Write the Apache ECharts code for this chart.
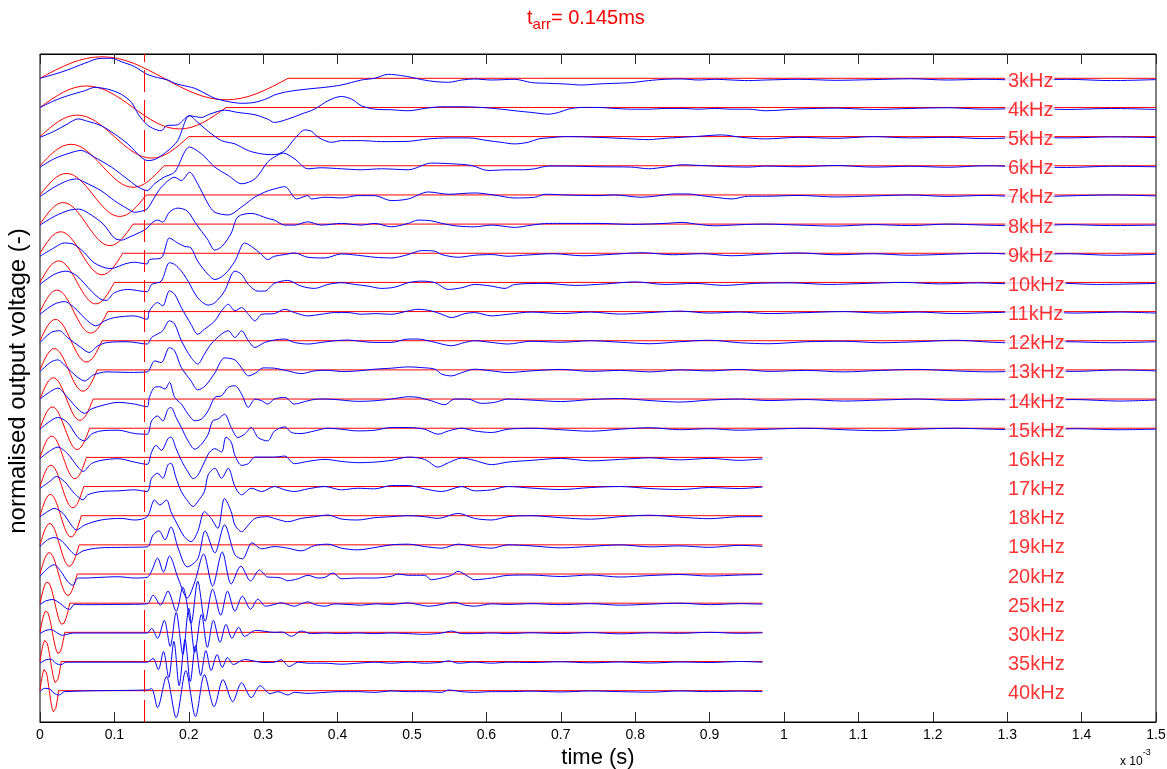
<!DOCTYPE html>
<html><head><meta charset="utf-8">
<script src="https://cdn.jsdelivr.net/npm/echarts/dist/echarts.min.js"></script>
<style>html,body{margin:0;padding:0;background:#fff}#c{width:1167px;height:769px}</style>
</head><body><div id="c"></div>
<script>
// ---- data (time in ms, amplitude in plot units; 1 unit ~ 1px) ----
const freqsKHz = [3,4,5,6,7,8,9,10,11,12,13,14,15,16,17,18,19,20,25,30,35,40];
const traceLabels = ['3kHz','4kHz','5kHz','6kHz','7kHz','8kHz','9kHz','10kHz','11kHz','12kHz','13kHz','14kHz','15kHz','16kHz','17kHz','18kHz','19kHz','20kHz','25kHz','30kHz','35kHz','40kHz'];
const traceEnd = [1.5,1.5,1.5,1.5,1.5,1.5,1.5,1.5,1.5,1.5,1.5,1.5,1.5,0.971,0.971,0.971,0.971,0.971,0.971,0.971,0.971,0.971];
const arrivalTime = 0.145;
const xTicks = [0.1,0.2,0.3,0.4,0.5,0.6,0.7,0.8,0.9,1.0,1.1,1.2,1.3,1.4];
// input pulse: one cycle, sampled at 1/32 of a period
const pulseShape = [0,4.2,8.2,11.9,15.2,17.9,19.9,21.1,21.5,21.1,19.9,17.9,15.2,11.9,8.2,4.2,0,-4.2,-8.2,-11.9,-15.2,-17.9,-19.9,-21.1,-21.5,-21.1,-19.9,-17.9,-15.2,-11.9,-8.2,-4.2,0];

const blue3 = [0,0, 0.019,4, 0.037,8.3, 0.06,15, 0.082,20, 0.096,20, 0.109,16.7, 0.127,11.7, 0.144,4, 0.158,0.7, 0.172,-1.7, 0.181,-5, 0.199,-8.3, 0.208,-10, 0.226,-16.7, 0.235,-20, 0.253,-23.3, 0.271,-25, 0.289,-24, 0.306,-20, 0.315,-16.7, 0.333,-13.3, 0.36,-10.7, 0.383,-9, 0.405,-6.7, 0.432,-1.7, 0.45,0, 0.468,4, 0.486,2.7, 0.499,1, 0.513,-1.3, 0.531,-3.3, 0.549,-4, 0.567,-1.7, 0.584,-0.7, 0.607,-1.7, 0.638,-1, 0.661,-4.3, 0.683,-5, 0.706,-5.7, 0.728,-6.7, 0.75,-5.7, 0.773,-5, 0.795,-4.3, 0.818,-2.3, 0.84,-1, 0.863,-0.7, 0.885,-1.7, 0.907,-1, 0.93,-1.7, 0.952,-2.3, 0.975,-1.7, 1.02,-1, 1.07,-2, 1.12,-1.3, 1.17,-0.5, 1.22,-1.7, 1.27,-1, 1.33,-2, 1.38,-1, 1.44,-2.3, 1.5,-1.3];
const blue4 = [0,0, 0.019,6.7, 0.037,11.7, 0.06,16.7, 0.073,20, 0.091,18.3, 0.109,13.3, 0.123,5, 0.132,-6.7, 0.144,-17.3, 0.154,-21.7, 0.163,-23.3, 0.17,-18.3, 0.185,-17.3, 0.201,-8.3, 0.217,-10, 0.228,-6.7, 0.248,-2.7, 0.266,-5, 0.289,-7.3, 0.306,-11.7, 0.315,-15, 0.333,-11.7, 0.351,-6.7, 0.369,-1.7, 0.387,6.7, 0.405,11, 0.419,8.3, 0.432,1.7, 0.45,-1.7, 0.472,-2.3, 0.495,-3.3, 0.517,-1, 0.54,0.7, 0.567,0.7, 0.593,0, 0.62,-1.7, 0.638,-3.3, 0.661,-5, 0.683,-6.7, 0.697,-5, 0.71,-1.7, 0.728,0, 0.75,0, 0.773,-1, 0.795,-1.7, 0.818,-1.7, 0.84,-1, 0.863,-1, 0.885,-1.7, 0.907,-1, 0.93,-1.7, 0.952,-1.7, 0.975,-3.3, 1.02,-1.5, 1.07,-0.7, 1.12,-2, 1.17,-1, 1.22,-0.3, 1.27,-1.7, 1.33,-1, 1.38,-2, 1.44,-1, 1.5,-2];
const blue5 = [0,-0.7, 0.019,5.3, 0.037,12.7, 0.051,17.7, 0.064,15.3, 0.082,11, 0.1,2.7, 0.118,-7.3, 0.136,-20.7, 0.145,-24, 0.156,-22.3, 0.172,-14, 0.185,-4, 0.201,21, 0.212,14.3, 0.226,5.3, 0.244,-4, 0.262,-7.3, 0.28,-14, 0.298,-17.3, 0.315,-18, 0.329,-14, 0.342,-2.3, 0.356,6.7, 0.365,5.3, 0.374,-0.7, 0.392,-5.7, 0.405,-4, 0.432,-4, 0.459,-5, 0.495,-4.7, 0.522,-2.3, 0.549,-1.3, 0.576,-1.3, 0.602,-4, 0.62,-5.7, 0.638,-7.3, 0.656,-5.7, 0.67,-2.3, 0.683,-1.3, 0.706,0, 0.75,-0.7, 0.795,-2.3, 0.818,-3, 0.84,-1.7, 0.885,0.3, 0.916,1.7, 0.943,-0.7, 0.975,-2.3, 1.02,-0.7, 1.07,-1.7, 1.12,0, 1.17,-1.3, 1.22,-0.7, 1.27,-2, 1.33,-0.7, 1.38,-1.3, 1.44,-0.3, 1.5,-1];
const blue6 = [0,-1.3, 0.019,7, 0.037,12, 0.055,15.3, 0.073,8.7, 0.096,-1.3, 0.114,-11.3, 0.132,-21.3, 0.144,-24.7, 0.154,-18, 0.167,-11.3, 0.181,-6.3, 0.201,18.7, 0.217,12, 0.235,-1.3, 0.253,-9.7, 0.271,-18, 0.289,-13, 0.306,3.7, 0.315,8.7, 0.327,12.7, 0.342,7, 0.36,-3, 0.378,-2, 0.405,-3, 0.432,-4, 0.459,-3, 0.495,-4, 0.526,2.7, 0.553,2, 0.58,0.3, 0.602,-4.7, 0.629,-4, 0.65,-4, 0.665,-3, 0.683,-0.3, 0.706,-0.3, 0.75,-1, 0.795,-1.3, 0.818,-3, 0.84,-1.3, 0.863,1, 0.889,0.3, 0.916,-0.7, 0.952,-1.3, 0.975,-0.3, 1.02,-1, 1.07,0.3, 1.12,-1.3, 1.17,-0.5, 1.22,-1.5, 1.27,0, 1.33,-1, 1.38,-1.7, 1.44,-0.5, 1.5,-1];
const blue7 = [0,-1.7, 0.019,7.7, 0.037,14.3, 0.049,16, 0.06,12.7, 0.082,4.3, 0.1,-5.7, 0.118,-14, 0.127,-17.3, 0.135,-16.5, 0.144,-14, 0.154,-2.3, 0.163,7.7, 0.181,17.7, 0.19,14.3, 0.201,22.7, 0.212,11, 0.226,-9, 0.235,-17.3, 0.253,-20, 0.271,-12, 0.289,-2, 0.306,4, 0.315,6, 0.329,8.3, 0.345,-4, 0.36,-0.7, 0.365,-4, 0.383,-2.3, 0.405,-3, 0.427,-0.7, 0.45,-0.7, 0.472,-5.7, 0.495,-4, 0.522,3, 0.549,0.7, 0.584,2, 0.61,0, 0.638,-3, 0.665,-2.3, 0.679,0.7, 0.706,0, 0.75,-0.7, 0.773,0, 0.808,-2.3, 0.826,-1.3, 0.853,1, 0.871,1, 0.889,-0.7, 0.907,-2.3, 0.93,-4, 0.952,-1.3, 0.975,-1.3, 1.02,-0.5, 1.07,-2, 1.12,-1, 1.17,0, 1.22,-1.5, 1.27,-0.5, 1.33,-2, 1.38,-1, 1.44,0, 1.5,-1];
const blue8 = [0,-1, 0.02,8, 0.04,14, 0.052,15, 0.065,11, 0.085,0, 0.1,-14, 0.11,-16, 0.12,-13, 0.135,-8, 0.144,-4, 0.15,1, 0.158,4, 0.165,2, 0.174,12, 0.185,16, 0.198,13, 0.21,0, 0.225,-15, 0.235,-26, 0.245,-22, 0.257,-9, 0.266,7.3, 0.284,10.7, 0.306,5.7, 0.315,4, 0.329,-1, 0.342,-1, 0.36,2.3, 0.378,-1, 0.405,0.7, 0.432,-1, 0.45,0.7, 0.472,-2.7, 0.495,0.7, 0.508,4, 0.526,3.3, 0.54,0.7, 0.562,-2, 0.584,-2.7, 0.607,-1, 0.629,-2.7, 0.638,-3.3, 0.661,-1, 0.683,0.7, 0.706,0.7, 0.75,0.7, 0.795,-0.3, 0.84,0.7, 0.863,1.7, 0.885,-0.3, 0.907,-1.7, 0.93,-1, 0.952,-0.3, 0.975,0, 1.02,-1, 1.07,-2, 1.12,-0.5, 1.17,-1.5, 1.22,0, 1.27,-1, 1.33,-2, 1.38,-0.5, 1.44,-1.5, 1.5,-1];
const blue9 = [0,-3, 0.015,3.7, 0.033,10.3, 0.046,8.7, 0.06,0.3, 0.073,-9.7, 0.094,-15.3, 0.1,-14.7, 0.114,-10.7, 0.127,-9, 0.144,-10.7, 0.147,-6.3, 0.163,-4.7, 0.174,15.3, 0.185,10.3, 0.194,7, 0.203,5.3, 0.212,-8, 0.226,-21.3, 0.235,-26.3, 0.248,-21.3, 0.262,-8, 0.275,10.3, 0.284,7, 0.298,-1.3, 0.306,-6.3, 0.315,-3, 0.329,-1.3, 0.342,0.3, 0.36,-4, 0.383,-4.7, 0.405,-0.7, 0.427,-2, 0.45,-4, 0.472,-4.7, 0.495,-1.3, 0.513,2.7, 0.531,2, 0.54,-1.3, 0.562,-4, 0.584,-2, 0.607,-1.3, 0.629,-3, 0.65,-2, 0.69,-0.5, 0.73,-2.5, 0.77,-1, 0.81,0.5, 0.85,-1.5, 0.89,-0.5, 0.93,-2.5, 0.97,-1, 1.02,0.3, 1.07,-1.5, 1.12,-0.5, 1.17,-2, 1.22,-1, 1.27,0, 1.33,-1.5, 1.38,-0.5, 1.44,-2, 1.5,-1];
const blue10 = [0,-2, 0.019,8, 0.035,11.3, 0.05,6.3, 0.069,-8.7, 0.082,-17, 0.089,-18, 0.1,-10.3, 0.118,-7, 0.144,-9.3, 0.15,-2, 0.163,1.3, 0.174,19.7, 0.181,18, 0.19,11.3, 0.199,1.3, 0.212,-15.3, 0.226,-22.7, 0.235,-20.3, 0.248,-8.7, 0.262,11.3, 0.271,8, 0.28,-2, 0.293,-8.7, 0.302,-8.7, 0.315,-1, 0.333,2, 0.351,-3.7, 0.369,-6, 0.387,-2, 0.405,-0.3, 0.423,-2, 0.441,-3.7, 0.459,-6, 0.477,-4.7, 0.495,-0.3, 0.513,1.3, 0.531,-0.3, 0.549,-7, 0.567,-5.3, 0.584,-2, 0.607,-3.7, 0.625,-6, 0.638,-2, 0.68,-1, 0.72,-3, 0.76,-1.5, 0.8,0.5, 0.84,-2, 0.88,-1, 0.92,-3, 0.96,-1, 1.01,-0.5, 1.06,-2, 1.11,-1, 1.16,0, 1.21,-1.5, 1.26,-0.5, 1.31,-1.5, 1.36,-0.5, 1.42,-2, 1.5,-1];
const blue11 = [0,-2.7, 0.019,7.3, 0.033,10, 0.046,4, 0.064,-9.3, 0.075,-14.3, 0.087,-9.3, 0.1,-6, 0.127,-4.3, 0.144,-7.7, 0.147,0.7, 0.158,9, 0.165,5.7, 0.174,20.7, 0.181,17.3, 0.19,4, 0.203,-12.7, 0.212,-22.7, 0.221,-17.7, 0.235,-9.3, 0.244,0.7, 0.253,7.3, 0.262,0.7, 0.271,4, 0.28,-2.7, 0.289,-9.3, 0.298,-2.7, 0.315,-2, 0.329,2.3, 0.342,-1, 0.36,-4.3, 0.378,-2.7, 0.396,-1, 0.414,-1, 0.432,-2.7, 0.45,-2, 0.472,-2.7, 0.495,0.7, 0.508,2.3, 0.526,0.7, 0.54,-2.7, 0.553,-6, 0.571,-2, 0.584,-1, 0.607,-4.3, 0.629,-2.7, 0.66,-0.5, 0.7,-2, 0.74,-0.5, 0.78,-2.5, 0.82,-1, 0.86,0.5, 0.9,-1.5, 0.94,-0.5, 0.98,-2, 1.03,-1, 1.08,0, 1.13,-1.5, 1.18,-0.5, 1.23,-2, 1.28,-1, 1.34,0, 1.39,-1.5, 1.45,-0.5, 1.5,-1.5];
const blue12 = [0,-1.7, 0.015,8.3, 0.026,10, 0.037,3.3, 0.055,-6.7, 0.066,-11.7, 0.078,-5, 0.091,-1.7, 0.118,-1, 0.144,-3.3, 0.15,3.3, 0.158,6.7, 0.165,10, 0.174,20, 0.181,16.7, 0.19,0, 0.203,-16.7, 0.212,-23.3, 0.221,-13.3, 0.23,-3.3, 0.244,6.7, 0.253,10, 0.262,3.3, 0.271,10, 0.28,0, 0.289,-6.7, 0.302,-1.7, 0.315,0.7, 0.329,1.7, 0.342,-1.7, 0.36,-3.3, 0.378,-1.7, 0.396,0, 0.414,0.7, 0.432,-0.7, 0.45,-1.7, 0.472,-1.7, 0.495,1.7, 0.508,1.7, 0.526,-0.7, 0.54,-3.3, 0.553,-5, 0.571,-1.7, 0.584,0, 0.607,-1.7, 0.629,-3.3, 0.66,-0.5, 0.7,-1.5, 0.74,0, 0.78,-1.5, 0.82,-3, 0.86,-1, 0.9,0.5, 0.94,-2, 0.98,-3, 1.03,-1, 1.08,-0.5, 1.13,-2, 1.18,-1, 1.23,0.5, 1.28,-1.5, 1.33,-2.5, 1.38,-1, 1.44,-2, 1.5,-1];
const blue13 = [0,-1.7, 0.015,8, 0.024,10, 0.034,4, 0.05,-7, 0.06,-11, 0.072,-5, 0.09,-2, 0.12,-2.5, 0.144,-2, 0.154,9, 0.163,7.3, 0.174,22.3, 0.181,19, 0.19,2.3, 0.203,-11, 0.212,-20, 0.222,-16, 0.235,-3, 0.248,12, 0.262,10, 0.271,2, 0.28,-6, 0.29,-3, 0.3,2, 0.315,1.7, 0.333,-1, 0.351,-3.7, 0.369,-1, 0.387,-0.3, 0.405,-1.7, 0.427,-1, 0.45,0.7, 0.472,1.7, 0.495,3, 0.513,2.3, 0.531,0.7, 0.54,-4.3, 0.553,-6, 0.567,-2.7, 0.584,0.7, 0.607,-1, 0.629,-2.7, 0.66,-1, 0.7,0.5, 0.74,-1.5, 0.78,-0.5, 0.82,-2, 0.86,0, 0.9,-1, 0.94,0.5, 0.98,-1.5, 1.03,-0.5, 1.08,-2, 1.13,-0.5, 1.18,0.5, 1.23,-1, 1.28,-2, 1.34,-0.5, 1.39,-1.5, 1.45,0, 1.5,-1];
const blue14 = [0,0, 0.011,6, 0.024,11, 0.037,1.7, 0.051,-10, 0.06,-14.3, 0.069,-10, 0.082,-6.7, 0.105,-3.3, 0.127,-5, 0.144,-7.7, 0.147,1.7, 0.154,11.7, 0.161,12.3, 0.168,10, 0.174,16.7, 0.181,1.7, 0.19,-5, 0.199,-15, 0.208,-21.7, 0.217,-20, 0.226,-11.7, 0.235,1.7, 0.244,3.3, 0.253,11.7, 0.262,13.3, 0.271,5, 0.28,-8.3, 0.289,0, 0.298,-1.7, 0.306,-5, 0.315,0, 0.329,1.7, 0.342,-5, 0.36,-1.7, 0.374,0, 0.387,0, 0.405,-1, 0.427,-2.3, 0.45,-1.7, 0.472,0, 0.495,2.3, 0.508,1.7, 0.526,-1.7, 0.544,-5.7, 0.557,0, 0.575,0, 0.593,-4.3, 0.611,-3.3, 0.629,0, 0.66,-1, 0.7,-2.5, 0.74,-0.5, 0.78,0.5, 0.82,-1.5, 0.86,-3, 0.9,-1, 0.94,0, 0.98,-1.5, 1.03,-0.5, 1.08,-2, 1.13,-1, 1.18,0, 1.23,-1.5, 1.28,-0.5, 1.34,-1.5, 1.39,-0.5, 1.45,-2, 1.5,-1];
const blue15 = [0,-1, 0.011,5.7, 0.024,10.7, 0.037,5.7, 0.051,-9.3, 0.06,-12.7, 0.069,-6, 0.082,-2.7, 0.105,-2, 0.127,-5.3, 0.144,-6, 0.15,7.3, 0.158,12.3, 0.165,7.3, 0.172,19, 0.176,20.7, 0.183,10.7, 0.19,0.7, 0.199,-12.7, 0.208,-21, 0.217,-16, 0.226,-6, 0.232,7.3, 0.239,9, 0.248,14, 0.257,0.7, 0.266,-9.3, 0.275,-6, 0.284,0.7, 0.293,-9.3, 0.306,-12.7, 0.315,-3, 0.329,1.3, 0.338,-4.3, 0.351,-5.3, 0.369,-2.7, 0.387,0, 0.405,-1, 0.427,-2.7, 0.45,-2, 0.472,0.7, 0.495,0.7, 0.517,-1, 0.535,-6, 0.549,-2.7, 0.567,0, 0.584,-2.7, 0.607,-4.3, 0.629,-1, 0.66,0, 0.7,-1.5, 0.74,-3, 0.78,-1, 0.82,0.5, 0.86,-1.5, 0.9,-0.5, 0.94,-2, 0.98,-1, 1.03,0, 1.08,-1.5, 1.13,-2.5, 1.18,-1, 1.23,0, 1.28,-1, 1.34,-2, 1.39,-0.5, 1.45,-1.5, 1.5,-1];
const blue16 = [0,-1.3, 0.011,5.3, 0.024,10.3, 0.037,3.7, 0.051,-9.7, 0.058,-14, 0.069,-6.3, 0.082,-3, 0.105,-1.3, 0.127,-4.7, 0.144,-7, 0.15,5.3, 0.156,12, 0.163,7, 0.172,18.7, 0.176,20.3, 0.183,8.7, 0.19,-3, 0.199,-14.7, 0.206,-21.3, 0.212,-18, 0.221,-4.7, 0.228,5.3, 0.235,8.7, 0.244,5.3, 0.25,20.3, 0.257,15.3, 0.262,2, 0.271,-8, 0.28,-6.3, 0.289,0.3, 0.306,0.3, 0.315,0.3, 0.329,1.3, 0.342,-6.3, 0.36,-4, 0.383,-2, 0.405,-4, 0.427,-5.3, 0.45,-4.7, 0.472,-3, 0.495,0.3, 0.517,-2, 0.535,-9.7, 0.549,-5.3, 0.567,-0.7, 0.584,-3, 0.607,-7.3, 0.629,-4.7, 0.66,-3, 0.7,-1, 0.74,-3.5, 0.78,-2, 0.82,-0.5, 0.86,-2.5, 0.9,-1, 0.94,-3, 0.971,-1.5];
const blue17 = [0,-1.7, 0.013,5, 0.022,10, 0.033,5, 0.046,-6.7, 0.058,-13.3, 0.064,-8.3, 0.082,-5, 0.105,-4.3, 0.127,-3.3, 0.144,-5, 0.15,8.3, 0.158,13.3, 0.165,8.3, 0.172,21.7, 0.176,23.3, 0.183,8.3, 0.19,-5, 0.199,-15, 0.206,-20, 0.212,-15, 0.221,-5, 0.226,11.7, 0.235,18.3, 0.244,8.3, 0.253,18.3, 0.262,0, 0.271,-8.3, 0.284,-1.7, 0.298,-5, 0.315,0, 0.329,-3.3, 0.342,-5, 0.36,-2.3, 0.383,0, 0.405,-3.3, 0.427,-1.7, 0.45,-2.3, 0.472,1, 0.495,1, 0.517,-2.3, 0.54,-5, 0.567,0, 0.584,-4.3, 0.607,-3.3, 0.629,0, 0.66,-1.5, 0.7,-3, 0.74,-1, 0.78,0, 0.82,-2, 0.86,-3, 0.9,-1, 0.94,-2, 0.971,-0.5];
const blue18 = [0,-1, 0.01,4, 0.019,7.3, 0.031,2.3, 0.042,-9.3, 0.049,-14.3, 0.06,-9.3, 0.082,-4.3, 0.109,-2.7, 0.127,-4.3, 0.144,-1, 0.154,15.7, 0.161,10.7, 0.17,15.7, 0.176,4, 0.185,-9.3, 0.194,-21, 0.203,-26, 0.212,-16, 0.221,4, 0.23,-2.7, 0.239,-12.7, 0.248,17.3, 0.257,4, 0.262,-9.3, 0.271,-16, 0.28,-9.3, 0.289,-2.7, 0.306,-1, 0.315,-2.7, 0.333,-6, 0.351,-2.7, 0.369,-1, 0.387,0.7, 0.405,-3.3, 0.427,-4.3, 0.45,-2, 0.472,-1, 0.495,0, 0.517,-1, 0.535,-2.7, 0.562,2.3, 0.584,-2.7, 0.607,-4.3, 0.629,-1, 0.66,0, 0.7,-2, 0.74,-3.5, 0.78,-1, 0.82,0.5, 0.86,-1.5, 0.9,-3, 0.94,-1, 0.971,-1];
const blue19 = [0,-1.7, 0.01,5, 0.019,7.3, 0.03,3.3, 0.042,-6.7, 0.048,-10, 0.058,-6, 0.08,-3, 0.11,-2.5, 0.144,-2, 0.152,10, 0.16,14, 0.168,5, 0.176,18, 0.186,-4, 0.198,-22, 0.212,-14, 0.222,14, 0.235,-8, 0.248,20, 0.262,-10, 0.272,-14, 0.285,2, 0.298,-4, 0.315,-1.7, 0.333,-3.3, 0.351,-6, 0.369,-0.7, 0.387,0.7, 0.405,-3.3, 0.427,-5, 0.45,-2.7, 0.472,0, 0.495,0.7, 0.517,-1.7, 0.54,-3.3, 0.562,0.7, 0.584,-1.7, 0.607,-3.3, 0.629,0, 0.66,-1, 0.7,-3, 0.74,-1.5, 0.78,0, 0.82,-2, 0.86,-1, 0.9,-2.5, 0.94,-0.5, 0.971,-1.5];
const blue20 = [0,-2.3, 0.011,6, 0.019,9.3, 0.028,2.7, 0.037,-7.3, 0.044,-11.3, 0.051,-4, 0.06,-4, 0.082,-3.3, 0.105,-2.7, 0.127,-4, 0.144,-3.3, 0.15,3, 0.158,16, 0.166,2, 0.174,18, 0.186,-5, 0.198,-24, 0.208,-8, 0.22,20, 0.232,-12, 0.245,22, 0.257,-10, 0.27,8, 0.283,-7, 0.295,4, 0.306,-3, 0.315,-3.3, 0.324,-4, 0.333,-6.7, 0.347,-4.7, 0.36,-1.3, 0.374,-4, 0.383,-3.3, 0.394,1, 0.405,-4.7, 0.427,-4, 0.45,-4, 0.472,-2.3, 0.481,0, 0.495,-1.3, 0.517,-1.3, 0.526,-5.7, 0.54,-4, 0.553,-1.3, 0.562,2.7, 0.575,-2.3, 0.584,-5.7, 0.607,-4, 0.629,-1.3, 0.66,-1, 0.7,-2.5, 0.74,-1, 0.78,-3, 0.82,-1.5, 0.86,-0.5, 0.9,-2, 0.94,-1, 0.971,-0.5];
const blue25 = [0,-1.3, 0.008,2.3, 0.017,3.7, 0.026,0.3, 0.035,-5, 0.04,-6.3, 0.046,-1.3, 0.06,-1.5, 0.1,-1.3, 0.144,-0.7, 0.152,8, 0.162,-2, 0.172,12, 0.183,-8, 0.192,16, 0.203,-20, 0.212,22, 0.222,-18, 0.232,14, 0.243,-12, 0.252,12, 0.262,-8, 0.272,7, 0.283,-6, 0.293,4, 0.303,-3, 0.315,-1.3, 0.324,0.3, 0.333,-1.3, 0.342,-3, 0.351,-0.7, 0.36,1.3, 0.369,-1.3, 0.383,-3, 0.396,-0.7, 0.414,-1.3, 0.432,-2, 0.45,-0.7, 0.472,-1.3, 0.495,0.3, 0.508,-1.3, 0.522,-3, 0.54,-1.3, 0.557,1, 0.571,-2, 0.584,-3, 0.607,-0.7, 0.629,-1.3, 0.66,-0.5, 0.7,-1.5, 0.74,-0.5, 0.78,-2, 0.82,-1, 0.86,0, 0.9,-1.5, 0.94,-0.5, 0.971,-1];
const blue30 = [0,-1.3, 0.008,2, 0.015,2.7, 0.022,0, 0.03,-3, 0.036,-2, 0.045,-0.7, 0.144,-0.7, 0.15,4, 0.158,-6, 0.167,12, 0.175,-14, 0.183,20, 0.192,-22, 0.2,24, 0.208,-20, 0.217,18, 0.225,-15, 0.233,12, 0.242,-10, 0.25,8, 0.258,-6, 0.267,5, 0.275,-4, 0.29,2, 0.315,0, 0.326,0.3, 0.338,-4, 0.351,1.3, 0.365,-1.3, 0.383,-0.7, 0.405,-1.3, 0.427,-0.7, 0.45,-1.3, 0.472,-0.7, 0.495,-1.3, 0.517,-2, 0.54,-0.7, 0.553,1.3, 0.567,-1.3, 0.584,-1.3, 0.607,-0.7, 0.629,-1.3, 0.66,-0.5, 0.7,-1.2, 0.74,-0.3, 0.78,-1.5, 0.82,-0.5, 0.86,-1, 0.9,0, 0.94,-1, 0.971,-0.5];
const blue35 = [0,-1.7, 0.008,1.7, 0.015,2.3, 0.021,-1.7, 0.028,-3.3, 0.035,-0.7, 0.144,-0.7, 0.152,3, 0.159,-8, 0.166,10, 0.173,-16, 0.18,20, 0.187,-24, 0.195,22, 0.202,-20, 0.209,16, 0.216,-14, 0.223,11, 0.23,-9, 0.238,7, 0.245,-6, 0.252,4, 0.26,-3, 0.275,2, 0.3,-1, 0.315,-0.7, 0.324,1.7, 0.335,-5, 0.347,-0.7, 0.36,-1.7, 0.383,-1.7, 0.405,-2.7, 0.427,-1.7, 0.45,-0.7, 0.472,-1.7, 0.495,-0.7, 0.517,-1.7, 0.54,-0.7, 0.549,0.7, 0.562,-1.7, 0.584,-0.7, 0.607,-1.7, 0.629,-0.7, 0.66,-1, 0.7,-0.3, 0.74,-1.3, 0.78,-0.5, 0.82,-1.5, 0.86,-0.5, 0.9,-1, 0.94,0, 0.971,-0.7];
const blue40 = [0,-1, 0.006,2.3, 0.013,1.7, 0.019,-2.7, 0.026,-4.3, 0.033,-1, 0.144,0.7, 0.15,2, 0.158,-17, 0.17,14, 0.183,-27, 0.196,20, 0.209,-26, 0.221,16, 0.234,-16, 0.246,11, 0.259,-11, 0.271,8, 0.284,-7, 0.296,5, 0.309,-3, 0.32,-1, 0.333,-4.3, 0.342,-1.7, 0.36,-2.7, 0.383,-1.7, 0.405,-1, 0.427,-1, 0.45,-1.7, 0.472,-0.3, 0.495,-1, 0.517,-1, 0.54,-1.7, 0.549,0.7, 0.567,-1, 0.584,-1.7, 0.607,-1, 0.629,-1, 0.66,-0.5, 0.7,-1.3, 0.74,-0.3, 0.78,-1, 0.82,-1.5, 0.86,-0.3, 0.9,-1, 0.94,-0.5, 0.971,-1];
const blueTraces = [blue3,blue4,blue5,blue6,blue7,blue8,blue9,blue10,blue11,blue12,blue13,blue14,blue15,blue16,blue17,blue18,blue19,blue20,blue25,blue30,blue35,blue40];

// ---- layout constants ----
const SPACING = 29.16;             // vertical offset between traces
const Y_MAX = 24.3, Y_MIN = -643.7; // axis range in plot units
const TICK_LEN = 10;               // in plot units (~px)
const FONT = '"Liberation Sans", Arial, Helvetica, sans-serif';

function pairs(flat, base) {
  const out = [];
  for (let k = 0; k < flat.length; k += 2) out.push([flat[k], base + flat[k + 1]]);
  return out;
}

const series = [];
freqsKHz.forEach((f, i) => {
  const base = -SPACING * i;
  const period = 1 / f; // ms
  const red = pulseShape.map((v, k) => [k / (pulseShape.length - 1) * period, base + v]);
  red.push([traceEnd[i], base]);
  series.push({
    type: 'line', data: red, symbol: 'none', silent: true, animation: false,
    lineStyle: { color: '#ff0000', width: 1 }, z: 2
  });
  series.push({
    type: 'line', data: pairs(blueTraces[i], base), symbol: 'none', silent: true, animation: false,
    smooth: 0.3, lineStyle: { color: '#0000ff', width: 1 }, z: 2
  });
});
// arrival-time marker
series[0].markLine = {
  silent: true, symbol: 'none', animation: false, label: { show: false },
  lineStyle: { color: '#ff0000', type: [22, 8], width: 1 },
  data: [{ xAxis: arrivalTime }]
};
// top-edge tick marks (mirror of the bottom axis ticks), placed with the axis scales
series[1].markLine = {
  silent: true, symbol: 'none', animation: false, label: { show: false },
  lineStyle: { color: '#262626', type: 'solid', width: 1 },
  data: xTicks.map(t => [{ coord: [t, Y_MAX] }, { coord: [t, Y_MAX - TICK_LEN] }])
};
// trace labels
series.push({
  type: 'scatter', xAxisIndex: 1, symbolSize: 0, silent: true, animation: false, z: 10,
  data: freqsKHz.map((f, i) => ({ value: [1.297, -SPACING * i], label: { formatter: traceLabels[i] } })),
  label: {
    show: true, position: 'right', distance: 0, offset: [0, 3],
    color: '#ff0000', fontSize: 20, fontFamily: FONT,
    backgroundColor: '#ffffff', padding: [1, 1, 1, 3], lineHeight: 20
  }
});

function ticks() { return { show: true, inside: true, length: 10, interval: 0, lineStyle: { color: '#262626', width: 1 } }; }
function axisLine() { return { show: true, onZero: false, lineStyle: { color: '#000', width: 1 } }; }

const chart = echarts.init(document.getElementById('c'), null, { renderer: 'canvas' });
chart.setOption({
  backgroundColor: '#ffffff',
  animation: false,
  title: {
    text: '{a|t}{b|arr}{a|= 0.145ms}',
    left: 527, top: 8, padding: 0,
    textStyle: {
      fontWeight: 'normal',
      rich: {
        a: { fontSize: 20, fontWeight: 'normal', color: '#ff0000', fontFamily: FONT, lineHeight: 24, verticalAlign: 'top' },
        b: { fontSize: 15, fontWeight: 'normal', color: '#ff0000', fontFamily: FONT, lineHeight: 16, padding: [17, 0, 0, 0], verticalAlign: 'bottom' }
      }
    }
  },
  grid: { left: 40, right: 11, top: 54, bottom: 47, outerBoundsMode: 'none', containLabel: false,
          show: true, borderColor: '#000', borderWidth: 1, backgroundColor: 'transparent' },
  xAxis: [{
    type: 'value', min: 0, max: 1.5, interval: 0.1, position: 'bottom',
    axisLine: axisLine(),
    axisTick: ticks(),
    axisLabel: { margin: 6, fontSize: 14, color: '#000', fontFamily: FONT,
      formatter: v => String(parseFloat(v.toFixed(1))) },
    splitLine: { show: false },
    name: 'time (s)', nameLocation: 'middle', nameGap: 25,
    nameTextStyle: { fontSize: 22, color: '#000', fontFamily: FONT }
  }, {
    type: 'value', min: 0, max: 1.5, interval: 0.1, position: 'top',
    axisLine: axisLine(),
    axisTick: ticks(),
    axisLabel: { show: false }, splitLine: { show: false }
  }],
  yAxis: {
    type: 'value', min: Y_MIN, max: Y_MAX,
    axisLine: { show: false, onZero: false }, axisTick: { show: false }, axisLabel: { show: false }, splitLine: { show: false },
    name: 'normalised output voltage (-)', nameLocation: 'middle', nameGap: 10,
    nameTextStyle: { fontSize: 24, color: '#000', fontFamily: FONT, padding: [0, 0, 0, 14] }
  },
  graphic: [{
    type: 'text', left: 1120, top: 748, silent: true,
    style: { text: '{a|x 10}{b|-3}', rich: {
      a: { fontSize: 12, fill: '#000', fontFamily: FONT, lineHeight: 20, verticalAlign: 'bottom' },
      b: { fontSize: 9, fill: '#000', fontFamily: FONT, lineHeight: 10, verticalAlign: 'top' } } }
  }],
  series: series
});
</script>
</body></html>
